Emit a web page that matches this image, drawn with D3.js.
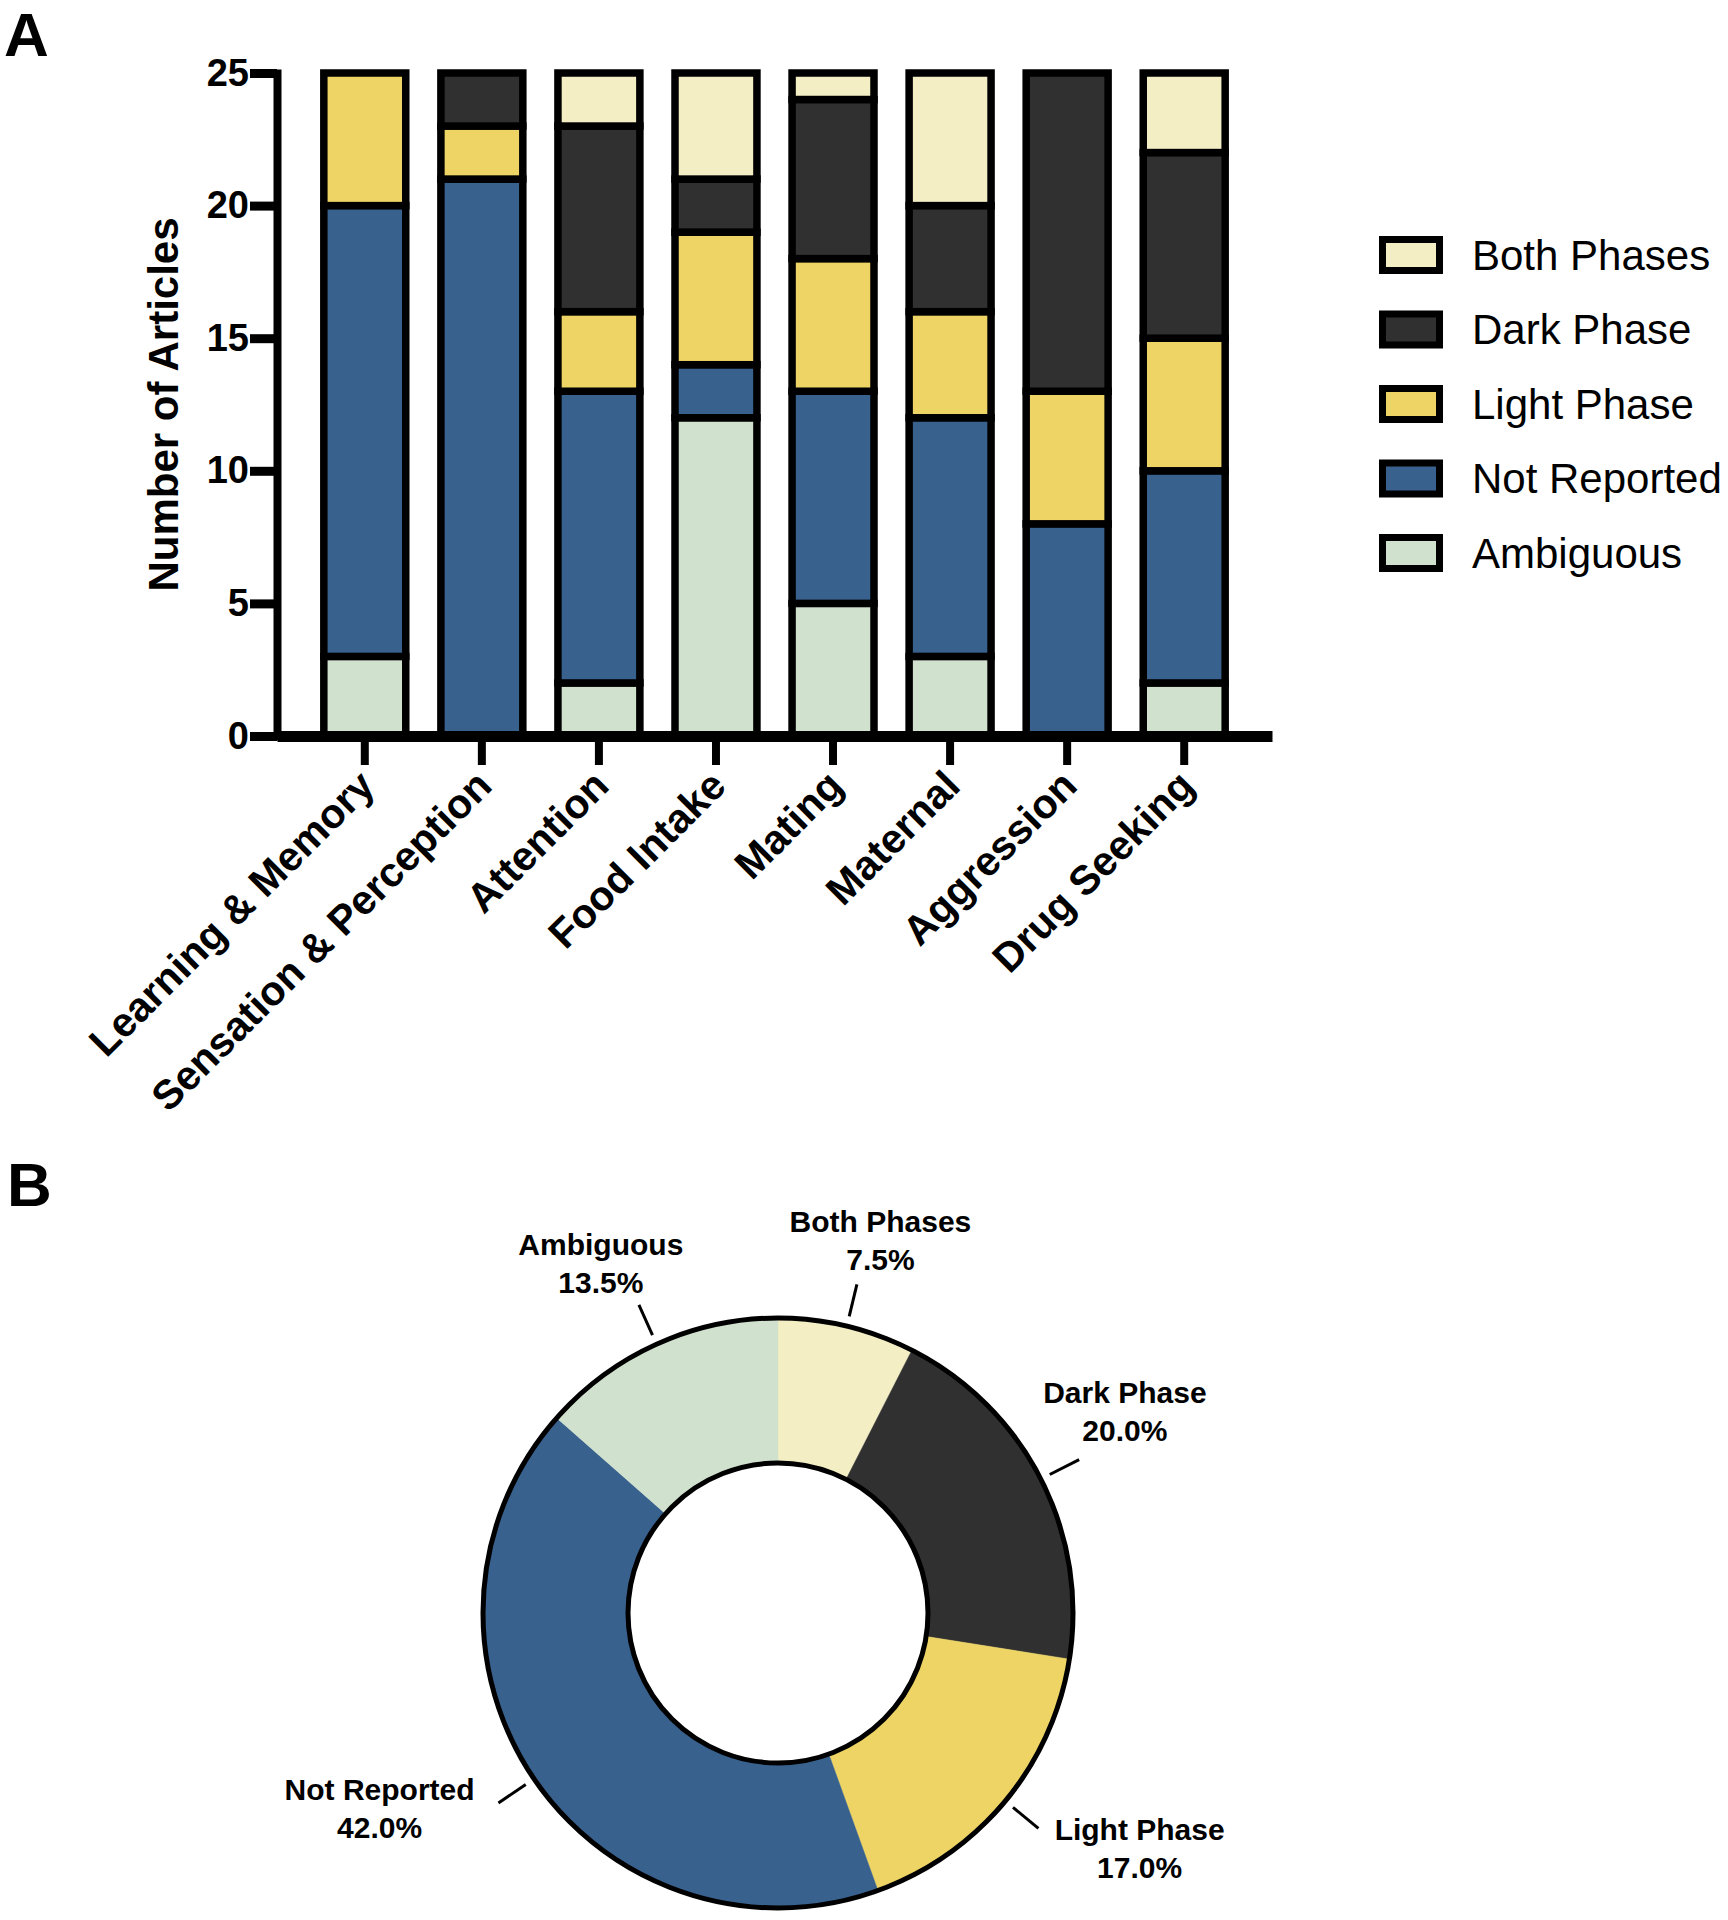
<!DOCTYPE html>
<html>
<head>
<meta charset="utf-8">
<script src="https://cdn.jsdelivr.net/npm/d3@7"></script>
<style>
  html, body { margin: 0; padding: 0; background: #fff; }
  svg { display: block; font-family: "Liberation Sans", Arial, sans-serif; }
</style>
</head>
<body>
<svg id="chart" width="1728" height="1920"></svg>
<script>
// ---------- DATA ----------
const categories = ["Learning & Memory", "Sensation & Perception", "Attention", "Food Intake",
                    "Mating", "Maternal", "Aggression", "Drug Seeking"];
// stacked bottom -> top
const ambiguous   = [3, 0, 2, 12, 5, 3, 0, 2];
const notReported = [17, 21, 11, 2, 8, 9, 8, 8];
const lightPhase  = [5, 2, 3, 5, 5, 4, 5, 5];
const darkPhase   = [0, 2, 7, 2, 6, 4, 12, 7];
const bothPhases  = [0, 0, 2, 4, 1, 5, 0, 3];
const seriesNames = ["Ambiguous", "Not Reported", "Light Phase", "Dark Phase", "Both Phases"];
const seriesColors = ["#D0E1CE", "#39618D", "#EDD465", "#303030", "#F3EEC4"];
const yTicks = [0, 5, 10, 15, 20, 25];
const yTitle = "Number of Articles";

// donut (clockwise from 12 o'clock)
const pieNames    = ["Both Phases", "Dark Phase", "Light Phase", "Not Reported", "Ambiguous"];
const piePercents = [7.5, 20.0, 17.0, 42.0, 13.5];

// ---------- SETUP ----------
const svg = d3.select("#chart");
const colorOf = d3.scaleOrdinal().domain(seriesNames).range(seriesColors);

// panel letters
svg.append("text").attr("x", 4).attr("y", 56).attr("font-size", 62).attr("font-weight", "bold").text("A");
svg.append("text").attr("x", 7).attr("y", 1206).attr("font-size", 62).attr("font-weight", "bold").text("B");

// ---------- PANEL A: stacked bars ----------
const plotLeft = 277, plotRight = 1272, plotTop = 73, plotBottom = 736;
const x = d3.scaleBand().domain(categories).range([plotLeft, plotRight])
  .paddingInner(0.3).paddingOuter(0.4);
const y = d3.scaleLinear().domain([0, 25]).range([plotBottom, plotTop]);

const seriesArrays = [ambiguous, notReported, lightPhase, darkPhase, bothPhases];
const rows = categories.map((c, i) => {
  const r = { cat: c };
  seriesNames.forEach((s, k) => r[s] = seriesArrays[k][i]);
  return r;
});
const stacked = d3.stack().keys(seriesNames)(rows);

const barsG = svg.append("g");
stacked.forEach(layer => {
  barsG.selectAll(null)
    .data(layer.filter(d => d[1] - d[0] > 0))
    .enter().append("rect")
    .attr("x", d => x(d.data.cat))
    .attr("width", x.bandwidth())
    .attr("y", d => y(d[1]))
    .attr("height", d => y(d[0]) - y(d[1]))
    .attr("fill", colorOf(layer.key))
    .attr("stroke", "#000")
    .attr("stroke-width", 7.5);
});

// y axis
const yAxisG = svg.append("g").attr("transform", `translate(${plotLeft},0)`)
  .call(d3.axisLeft(y).tickValues(yTicks).tickSizeInner(27).tickSizeOuter(0).tickPadding(1));
yAxisG.select(".domain").attr("stroke-width", 8).attr("stroke-linecap", "square");
yAxisG.selectAll(".tick line").attr("stroke-width", 9);
yAxisG.selectAll(".tick text").attr("font-size", 38).attr("font-weight", "bold")
  .attr("font-family", "'Liberation Sans', Arial, sans-serif").attr("fill", "#000");

// x axis
const xAxisG = svg.append("g").attr("transform", `translate(0,${plotBottom})`)
  .call(d3.axisBottom(x).tickSizeInner(29).tickSizeOuter(0));
xAxisG.select(".domain").attr("stroke-width", 11);
xAxisG.selectAll(".tick line").attr("stroke-width", 8);
xAxisG.selectAll(".tick text")
  .attr("x", 0).attr("y", 0).attr("dy", "0.35em")
  .attr("text-anchor", "end")
  .attr("transform", "translate(2,42) rotate(-45)")
  .attr("font-size", 41).attr("font-weight", "bold")
  .attr("font-family", "'Liberation Sans', Arial, sans-serif").attr("fill", "#000");
yAxisG.raise();

// y title
svg.append("text")
  .attr("transform", `translate(178,${(plotTop + plotBottom) / 2}) rotate(-90)`)
  .attr("text-anchor", "middle")
  .attr("font-size", 42).attr("font-weight", "bold")
  .text(yTitle);

// legend (top -> bottom: reverse stack order)
const legendNames = seriesNames.slice().reverse();
const legY = d3.scalePoint().domain(legendNames).range([255, 553]);
const legG = svg.append("g");
legendNames.forEach(n => {
  legG.append("rect")
    .attr("x", 1382.5).attr("y", legY(n) - 15.5)
    .attr("width", 57).attr("height", 31)
    .attr("fill", colorOf(n)).attr("stroke", "#000").attr("stroke-width", 7);
  legG.append("text")
    .attr("x", 1472).attr("y", legY(n)).attr("dy", "0.35em")
    .attr("font-size", 42).text(n);
});

// ---------- PANEL B: donut ----------
const cx = 778, cy = 1613, rOuter = 295, rInner = 150;
const pieData = pieNames.map((n, i) => ({ name: n, value: piePercents[i] }));
const arcs = d3.pie().sort(null).value(d => d.value)(pieData);
const arcGen = d3.arc().innerRadius(rInner).outerRadius(rOuter);
const donutG = svg.append("g").attr("transform", `translate(${cx},${cy})`);
donutG.selectAll("path.slice").data(arcs).enter().append("path")
  .attr("class", "slice")
  .attr("d", arcGen)
  .attr("fill", d => colorOf(d.data.name))
  .attr("stroke", d => colorOf(d.data.name)).attr("stroke-width", 0.5);
donutG.append("circle").attr("r", rOuter).attr("fill", "none").attr("stroke", "#000").attr("stroke-width", 5);
donutG.append("circle").attr("r", rInner).attr("fill", "none").attr("stroke", "#000").attr("stroke-width", 5);

// label nudges (layout only, px)
const labelNudge = {
  "Both Phases": [0, 0], "Ambiguous": [0, 0],
  "Dark Phase": [-36, -27], "Not Reported": [-32, -20], "Light Phase": [28, -9]
};

// leader lines + labels
arcs.forEach(a => {
  const ang = (a.startAngle + a.endAngle) / 2;
  const ux = Math.sin(ang), uy = -Math.cos(ang);
  donutG.append("line")
    .attr("x1", ux * 305).attr("y1", uy * 305)
    .attr("x2", ux * 338).attr("y2", uy * 338)
    .attr("stroke", "#000").attr("stroke-width", 3);
  const lg = donutG.append("g");
  const t = lg.append("text").attr("text-anchor", "middle")
    .attr("font-size", 30).attr("font-weight", "bold");
  t.append("tspan").attr("x", 0).attr("y", 0).text(a.data.name);
  t.append("tspan").attr("x", 0).attr("y", 38).text(a.data.value.toFixed(1) + "%");
  const bb = t.node().getBBox();
  const px = ux * 348, py = uy * 348;
  const nud = labelNudge[a.data.name];
  const ccx = px + ux * bb.width / 2 + nud[0], ccy = py + uy * bb.height / 2 + nud[1];
  const bcx = bb.x + bb.width / 2, bcy = bb.y + bb.height / 2;
  lg.attr("transform", `translate(${ccx - bcx},${ccy - bcy})`);
});
</script>
</body>
</html>
